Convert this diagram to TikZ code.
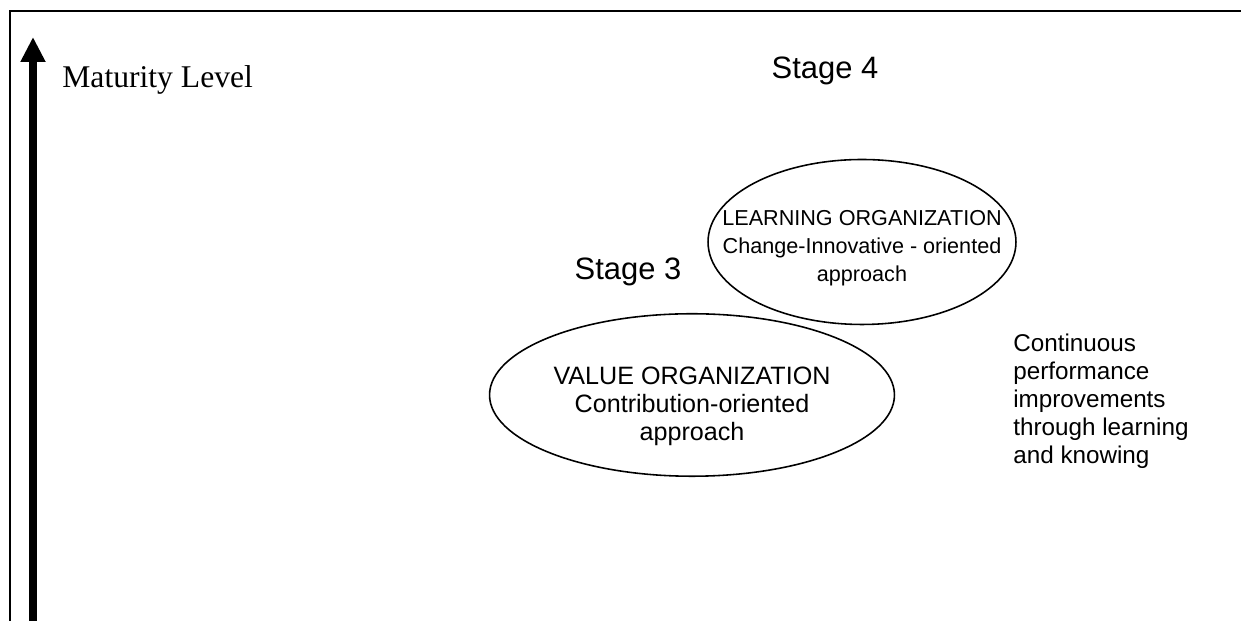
\documentclass[tikz,border=0pt]{standalone}
\usepackage{fontspec}
\setmainfont{Liberation Serif}
\setsansfont{Liberation Sans}
\usepackage{tikz}
\usetikzlibrary{shapes.geometric, arrows.meta}

\begin{document}
\begin{tikzpicture}[x=0.02cm, y=0.02cm]
\tikzstyle{stage} = [ellipse, draw=black, line width=0.9pt, inner sep=0pt]
\tikzstyle{body} = [align=center, inner sep=0pt, font=\sffamily\fontsize{12.3}{15.9}\selectfont]
\tikzstyle{heading} = [inner sep=0pt, font=\sffamily\fontsize{17.6}{21}\selectfont]
\useasboundingbox (0,0) rectangle (1241,621);
\draw [line width=1.2pt] (10,0) -- (10,610) -- (1241,610);

\coordinate (base) at (33,0);
\coordinate (tip) at (33,584);
\draw [-{Triangle[width=0.47cm, length=0.5cm]}, line width=0.16cm] (base) -- (tip);
\node (maturity) [anchor=base west, inner sep=0pt, font=\fontsize{18}{21}\selectfont] at (62,533) {Maturity Level};

\node (learning) [stage, minimum width=6.16cm, minimum height=3.3cm] at (862,379) {};
\node (learningtext) [body] at ([yshift=-0.12cm]learning.center) {LEARNING ORGANIZATION\\Change-Innovative - oriented\\approach};
\node (value) [stage, minimum width=8.1cm, minimum height=3.25cm] at (692,226) {};
\node (valuetext) [body, font=\sffamily\fontsize{14.3}{16}\selectfont] at ([yshift=-0.22cm]value.center) {VALUE ORGANIZATION\\Contribution-oriented\\approach};

\node (stage4) [heading] at (825,550) {Stage 4};
\node (stage3) [heading] at (628,349) {Stage 3};

\node (note) [anchor=north west, align=left, inner sep=0pt, font=\sffamily\fontsize{13.8}{15.9}\selectfont] at (1013,287) {Continuous\\performance\\improvements\\through learning\\and knowing};
\end{tikzpicture}
\end{document}
